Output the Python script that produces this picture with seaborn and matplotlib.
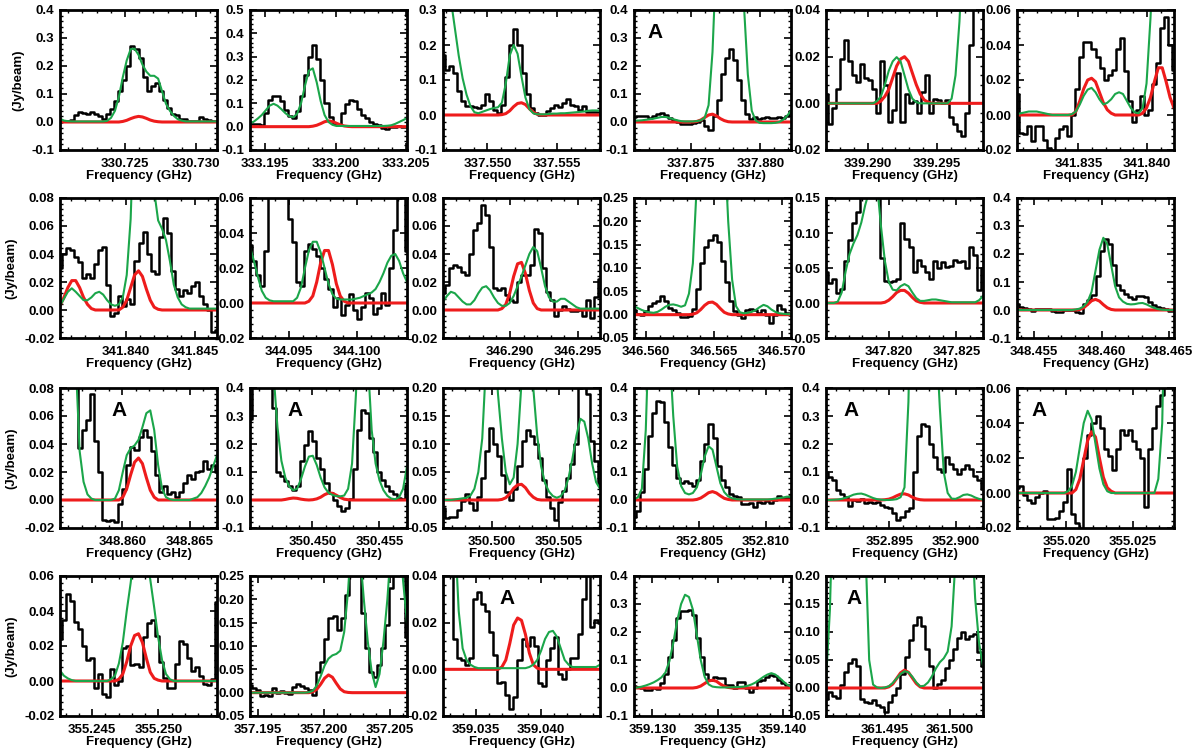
"""
Line survey panels: observed spectrum (black steps), single-line model (red)
and full model of all species (green) for 23 frequency windows.
"""

import numpy as np
import matplotlib
matplotlib.use("Agg")
import matplotlib.pyplot as plt
from matplotlib.ticker import MultipleLocator, AutoMinorLocator, FormatStrFormatter
import seaborn as sns

# ---------------------------------------------------------------
# Panel axes ranges (GHz, Jy/beam)
# ---------------------------------------------------------------
freq_lo = [330.72042, 333.19392, 337.54680, 337.87090, 339.28698, 341.83053,
           341.83518, 344.09215, 346.28506, 346.55910, 347.81533, 348.45372,
           348.85537, 350.44534, 350.49634, 352.80010, 352.89025, 355.01626,
           355.24256, 357.19438, 359.03250, 359.12859, 361.49045]
freq_hi = [330.73148, 333.20506, 337.55810, 337.88220, 339.29833, 341.84197,
           341.84662, 344.10366, 346.29664, 346.57070, 347.82697, 348.46538,
           348.86704, 350.45706, 350.50806, 352.81190, 352.90205, 355.02814,
           355.25444, 357.20632, 359.04451, 359.14061, 361.50255]
y_lo = [-0.1, -0.1, -0.1, -0.1, -0.02, -0.02, -0.02, -0.02, -0.02, -0.05, -0.05, -0.1,
        -0.02, -0.1, -0.05, -0.1, -0.1, -0.02, -0.02, -0.05, -0.02, -0.1, -0.05]
y_hi = [0.4, 0.5, 0.3, 0.4, 0.04, 0.06, 0.08, 0.06, 0.08, 0.25, 0.15, 0.4,
        0.08, 0.4, 0.20, 0.4, 0.4, 0.06, 0.06, 0.25, 0.04, 0.4, 0.20]
y_step = [0.1, 0.1, 0.1, 0.1, 0.02, 0.02, 0.02, 0.02, 0.02, 0.05, 0.05, 0.1,
          0.02, 0.1, 0.05, 0.1, 0.1, 0.02, 0.02, 0.05, 0.02, 0.1, 0.05]

# ---------------------------------------------------------------
# Observed spectra (channels spread evenly across each window)
# ---------------------------------------------------------------
spec_01 = [0.0, 0.005, 0.005, 0.008, 0.025, 0.035, 0.032, 0.03, 0.035, 0.028, 0.02, 0.01, 0.03, 0.045,
           0.075, 0.11, 0.15, 0.2, 0.27, 0.26, 0.23, 0.16, 0.11, 0.13, 0.14, 0.11, 0.08, 0.05, 0.03,
           0.025, 0.012, 0.01, 0.004, 0.003, 0.005, 0.018, 0.012, 0.008, 0.004, 0.004]
spec_02 = [0.01, 0.01, 0.01, 0.005, 0.06, 0.115, 0.13, 0.13, 0.11, 0.07, 0.045, 0.035, 0.065, 0.13,
           0.22, 0.30, 0.35, 0.29, 0.2, 0.1, 0.04, 0.01, 0.01, 0.06, 0.095, 0.115, 0.11, 0.075, 0.05,
           0.035, 0.02, 0.01, 0.005, -0.005, -0.008, 0.0, 0.0, 0.002, 0.0, 0.0]
spec_03 = [0.17, 0.13, 0.14, 0.12, 0.07, 0.04, 0.025, 0.025, 0.022, 0.02, 0.03, 0.06, 0.04, 0.015,
           0.005, 0.03, 0.11, 0.2, 0.245, 0.2, 0.12, 0.06, 0.02, 0.005, 0.0, 0.0, 0.012, 0.02, 0.03,
           0.022, 0.035, 0.045, 0.03, 0.025, 0.015, 0.025, 0.01, 0.01, 0.01, 0.008]
spec_04 = [0.018, 0.02, 0.022, 0.02, 0.015, 0.02, 0.03, 0.032, 0.025, 0.015, 0.008, 0.0, -0.006,
           -0.008, -0.008, -0.005, 0.0, 0.006, -0.015, -0.027, 0.02, 0.08, 0.17, 0.23, 0.26, 0.22,
           0.15, 0.08, 0.03, 0.012, 0.018, 0.012, 0.015, 0.018, 0.015, 0.015, 0.018, 0.015, 0.02, 0.04]
spec_05 = [0.004, -0.009, -0.002, 0.006, 0.019, 0.027, 0.018, 0.012, 0.009, 0.017, 0.011, 0.01,
           0.006, -0.004, 0.018, 0.008, -0.008, -0.003, 0.013, -0.008, 0.004, 0.0, 0.001, -0.004,
           0.005, 0.012, -0.004, 0.002, 0.0015, 0.0, 0.0015, -0.006, -0.009, -0.012, -0.014, -0.004,
           0.025, 0.045, 0.06, 0.06]
spec_06 = [0.012, -0.01, -0.011, -0.006, -0.015, -0.006, -0.006, -0.014, -0.019, -0.021, -0.013,
           -0.008, -0.006, -0.012, 0.0, 0.015, 0.033, 0.042, 0.042, 0.038, 0.033, 0.027, 0.02, 0.023,
           0.026, 0.038, 0.044, 0.025, 0.008, -0.004, 0.003, 0.011, 0.0, 0.003, 0.018, 0.03, 0.05,
           0.056, 0.04, 0.026]
spec_07 = [0.03, 0.04, 0.044, 0.043, 0.038, 0.034, 0.023, 0.026, 0.023, 0.033, 0.043, 0.045, 0.018,
           -0.004, -0.002, 0.01, 0.003, 0.008, 0.004, 0.035, 0.048, 0.056, 0.04, 0.028, 0.026, 0.052,
           0.066, 0.055, 0.028, 0.015, 0.01, 0.014, 0.012, 0.017, 0.02, 0.01, 0.004, 0.0, -0.016, -0.014]
spec_08 = [0.033, 0.024, 0.016, 0.01, 0.03, 0.07, 0.075, 0.08, 0.075, 0.065, 0.048, 0.035, 0.012,
           0.01, 0.03, 0.034, 0.031, 0.027, 0.02, 0.014, 0.008, -0.002, 0.003, -0.007, -0.001, 0.005,
           -0.004, -0.009, -0.002, 0.006, 0.003, -0.006, -0.003, 0.006, -0.001, 0.02, 0.042, 0.06,
           0.065, 0.03]
spec_09 = [0.012, 0.018, 0.03, 0.032, 0.031, 0.027, 0.025, 0.04, 0.057, 0.062, 0.075, 0.068, 0.045,
           0.016, 0.014, 0.016, 0.011, 0.007, 0.006, 0.02, 0.025, 0.025, 0.032, 0.058, 0.055, 0.03,
           0.013, 0.007, -0.004, 0.0, 0.003, 0.001, -0.001, -0.001, 0.0, -0.004, 0.007, -0.006, 0.009,
           0.022]
spec_10 = [0.011, 0.001, 0.0, 0.008, 0.018, 0.025, 0.03, 0.04, 0.03, 0.015, 0.01, 0.004, -0.004,
           -0.004, -0.003, 0.012, 0.055, 0.11, 0.145, 0.16, 0.17, 0.155, 0.115, 0.07, 0.03, 0.007, 0.0,
           -0.007, 0.01, 0.012, 0.011, 0.004, 0.01, 0.0, -0.018, 0.0, 0.02, 0.012, 0.003, 0.0]
spec_11 = [0.045, 0.028, 0.034, 0.015, 0.02, 0.06, 0.09, 0.115, 0.13, 0.17, 0.2, 0.22, 0.21, 0.19,
           0.065, 0.031, 0.03, 0.031, 0.034, 0.115, 0.091, 0.08, 0.045, 0.061, 0.053, 0.044, 0.034,
           0.06, 0.05, 0.058, 0.052, 0.053, 0.062, 0.058, 0.06, 0.05, 0.08, 0.068, 0.018, 0.05]
spec_12 = [0.021, 0.012, 0.007, 0.005, -0.005, 0.003, 0.003, 0.003, 0.003, -0.005, -0.008, -0.006,
           -0.001, 0.0, 0.0, -0.006, -0.012, 0.02, 0.036, 0.055, 0.12, 0.21, 0.255, 0.235, 0.16, 0.09,
           0.073, 0.056, 0.048, 0.04, 0.05, 0.05, 0.045, 0.03, 0.018, 0.012, 0.007, 0.005, -0.002,
           -0.002]
spec_13 = [0.12, 0.13, 0.12, 0.1, 0.085, 0.037, 0.05, 0.057, 0.076, 0.042, 0.02, -0.014, -0.015,
           -0.014, -0.016, -0.003, 0.008, 0.025, 0.038, 0.036, 0.045, 0.05, 0.045, 0.035, 0.018, 0.006,
           0.01, 0.004, 0.006, 0.002, 0.006, 0.012, 0.018, 0.015, 0.02, 0.021, 0.028, 0.022, 0.025, 0.02]
spec_14 = [0.29, 0.5, 0.6, 0.6, 0.55, 0.45, 0.33, 0.1, 0.085, 0.067, 0.05, 0.036, 0.05, 0.14, 0.196,
           0.245, 0.21, 0.15, 0.11, 0.06, 0.026, 0.0, -0.02, -0.04, -0.03, 0.005, 0.11, 0.25, 0.32,
           0.31, 0.22, 0.17, 0.1, 0.07, 0.05, 0.032, 0.02, 0.008, 0.005, 0.055]
spec_15 = [-0.015, -0.032, -0.03, -0.031, -0.018, -0.002, 0.01, -0.005, -0.018, 0.005, 0.04, 0.088,
           0.128, 0.1, 0.078, 0.045, 0.015, 0.0, 0.02, 0.06, 0.105, 0.125, 0.115, 0.1, 0.075, 0.035,
           0.005, -0.015, -0.035, -0.003, 0.016, 0.04, 0.065, 0.1, 0.2, 0.23, 0.19, 0.105, 0.07, 0.028]
spec_16 = [-0.062, -0.04, 0.03, 0.11, 0.23, 0.31, 0.355, 0.35, 0.28, 0.19, 0.126, 0.08, 0.062,
           0.068, 0.062, 0.05, 0.07, 0.14, 0.2, 0.27, 0.22, 0.12, 0.07, 0.045, 0.022, 0.016, 0.01,
           -0.015, -0.015, -0.01, -0.025, -0.006, -0.009, -0.005, -0.009, 0.0, 0.014, 0.008, 0.008, 0.014]
spec_17 = [0.1, 0.082, 0.07, 0.035, 0.02, 0.012, -0.02, 0.0, -0.005, 0.005, -0.012, -0.008, -0.01,
           -0.006, -0.018, -0.024, -0.03, -0.047, -0.07, -0.059, -0.041, -0.03, 0.1, 0.23, 0.27, 0.265,
           0.2, 0.153, 0.11, 0.1, 0.153, 0.13, 0.11, 0.094, 0.112, 0.124, 0.11, 0.085, 0.07, 0.041]
spec_18 = [0.003, 0.004, -0.001, -0.004, -0.0057, -0.002, 0.0, 0.001, -0.015, -0.015, -0.014, -0.01,
           -0.005, 0.014, -0.012, -0.017, -0.021, 0.02, 0.033, 0.04, 0.044, 0.037, 0.025, 0.021, 0.013,
           0.025, 0.036, 0.033, 0.036, 0.03, 0.025, 0.02, -0.008, 0.025, 0.037, 0.05, 0.056, 0.065,
           0.08, 0.09]
spec_19 = [0.024, 0.035, 0.05, 0.046, 0.034, 0.03, 0.02, 0.012, 0.013, -0.004, 0.004, -0.0075,
           -0.009, 0.007, -0.002, 0.0, 0.019, 0.02, 0.009, 0.01, 0.008, 0.025, 0.033, 0.035, 0.026,
           0.011, 0.002, -0.004, -0.004, 0.01, 0.023, 0.021, 0.013, 0.006, 0.008, 0.003, -0.0015,
           -0.002, 0.001, 0.045]
spec_20 = [0.016, 0.009, 0.005, -0.007, -0.004, -0.008, 0.011, 0.0, 0.004, -0.001, -0.002, 0.013,
           0.018, 0.014, 0.009, 0.006, -0.004, 0.045, 0.065, 0.115, 0.16, 0.165, 0.135, 0.16, 0.21,
           0.28, 0.3, 0.27, 0.17, 0.095, 0.045, 0.034, 0.06, 0.095, 0.145, 0.225, 0.27, 0.26, 0.28, 0.12]
spec_21 = [0.045, 0.05, 0.045, 0.013, 0.005, 0.004, 0.002, 0.005, 0.03, 0.033, 0.028, 0.025, 0.016,
           0.006, -0.006, -0.0055, -0.011, -0.017, -0.012, 0.004, 0.013, 0.01, 0.014, 0.01, -0.006,
           -0.007, 0.004, 0.009, 0.014, -0.002, -0.004, 0.0, 0.005, 0.005, 0.015, 0.03, 0.045, 0.018,
           0.021, 0.02]
spec_22 = [0.006, 0.005, 0.0, -0.006, -0.008, 0.0, -0.005, 0.018, 0.05, 0.11, 0.17, 0.25, 0.275,
           0.275, 0.28, 0.26, 0.18, 0.11, 0.05, 0.03, 0.04, 0.035, 0.035, 0.012, 0.012, 0.0, 0.02,
           0.022, 0.0, -0.015, 0.0, 0.024, 0.03, 0.038, 0.045, 0.042, 0.03, 0.018, 0.01, 0.003]
spec_23 = [-0.02, -0.008, -0.014, -0.018, 0.005, 0.028, 0.045, 0.052, 0.04, -0.02, -0.025, -0.027,
           -0.022, -0.031, -0.034, -0.042, -0.025, -0.012, 0.0, 0.025, 0.055, 0.085, 0.112, 0.127,
           0.11, 0.07, 0.04, 0.0, 0.007, 0.015, 0.035, 0.05, 0.07, 0.09, 0.1, 0.088, 0.093, 0.096,
           0.065, 0.04]

# ---------------------------------------------------------------
# Single-line model (red), sampled at 41 even points per window
# ---------------------------------------------------------------
red_01 = [0, 0, 0, 0, 0, 0, 0, 0, 0, 0, 0, 0, 0, 0, 0, 0,
          0.002, 0.006, 0.012, 0.017, 0.02, 0.018, 0.013, 0.007, 0.003, 0.001,
          0, 0, 0, 0, 0, 0, 0, 0, 0, 0, 0, 0, 0, 0, 0]
red_02 = [0, 0, 0, 0, 0, 0, 0, 0, 0, 0, 0, 0, 0, 0, 0, 0,
          0.002, 0.006, 0.013, 0.021, 0.025, 0.022, 0.015, 0.008, 0.003, 0.001,
          0, 0, 0, 0, 0, 0, 0, 0, 0, 0, 0, 0, 0, 0, 0]
red_03 = [0, 0, 0, 0, 0, 0, 0, 0, 0, 0, 0, 0, 0, 0, 0,
          0.001, 0.004, 0.012, 0.024, 0.033, 0.035, 0.03, 0.018, 0.008, 0.002,
          0, 0, 0, 0, 0, 0, 0, 0, 0, 0, 0, 0, 0, 0, 0, 0]
red_04 = [0, 0, 0, 0, 0, 0, 0, 0, 0, 0, 0, 0, 0, 0, 0, 0,
          0.002, 0.007, 0.016, 0.025, 0.028, 0.022, 0.012, 0.005, 0.001,
          0, 0, 0, 0, 0, 0, 0, 0, 0, 0, 0, 0, 0, 0, 0, 0]
red_05 = [0, 0, 0, 0, 0, 0, 0, 0, 0, 0, 0, 0, 0, 0,
          0.001, 0.003, 0.006, 0.011, 0.016, 0.019, 0.02, 0.018, 0.013, 0.008, 0.004, 0.0015, 0.0005,
          0, 0, 0, 0, 0, 0, 0, 0, 0, 0, 0, 0, 0, 0]
red_06 = [0, 0, 0, 0, 0, 0, 0, 0, 0, 0, 0, 0, 0, 0, 0,
          0.002, 0.008, 0.015, 0.02, 0.021, 0.019, 0.013, 0.007, 0.003, 0.001,
          0, 0, 0, 0, 0, 0, 0,
          0.001, 0.004, 0.01, 0.019, 0.027, 0.027, 0.019, 0.01, 0.004]
red_07 = [0.003, 0.009, 0.016, 0.021, 0.021, 0.016, 0.009, 0.004, 0.001,
          0, 0, 0, 0, 0, 0, 0,
          0.002, 0.007, 0.016, 0.025, 0.028, 0.024, 0.015, 0.007, 0.002, 0.0005,
          0, 0, 0, 0, 0, 0, 0, 0, 0, 0, 0, 0, 0, 0, 0]
red_08 = [0, 0, 0, 0, 0, 0, 0, 0, 0, 0, 0, 0, 0, 0, 0,
          0.001, 0.004, 0.012, 0.023, 0.03, 0.03, 0.022, 0.011, 0.004, 0.001,
          0, 0, 0, 0, 0, 0, 0, 0, 0, 0, 0, 0, 0, 0, 0, 0]
red_09 = [0, 0, 0, 0, 0, 0, 0, 0, 0, 0, 0, 0, 0, 0, 0,
          0.001, 0.004, 0.012, 0.024, 0.033, 0.034, 0.026, 0.014, 0.005, 0.001,
          0, 0, 0, 0, 0, 0, 0, 0, 0, 0, 0, 0, 0, 0, 0, 0]
red_10 = [0, 0, 0, 0, 0, 0, 0, 0, 0, 0, 0, 0, 0, 0, 0,
          0.001, 0.004, 0.011, 0.02, 0.026, 0.027, 0.022, 0.013, 0.005, 0.0015,
          0, 0, 0, 0, 0, 0, 0, 0, 0, 0, 0, 0, 0, 0, 0, 0]
red_11 = [0, 0, 0, 0, 0, 0, 0, 0, 0, 0, 0, 0, 0, 0, 0,
          0.001, 0.004, 0.009, 0.015, 0.018, 0.018, 0.014, 0.008, 0.003, 0.001,
          0, 0, 0, 0, 0, 0, 0, 0, 0, 0, 0, 0, 0, 0, 0, 0]
red_12 = [0, 0, 0, 0, 0, 0, 0, 0, 0, 0, 0, 0, 0, 0, 0, 0,
          0.002, 0.008, 0.02, 0.033, 0.038, 0.032, 0.019, 0.008, 0.002,
          0, 0, 0, 0, 0, 0, 0, 0, 0, 0, 0, 0, 0, 0, 0, 0]
red_13 = [0, 0, 0, 0, 0, 0, 0, 0, 0, 0, 0, 0, 0, 0, 0, 0,
          0.002, 0.008, 0.018, 0.027, 0.03, 0.026, 0.016, 0.007, 0.002,
          0, 0, 0, 0, 0, 0, 0, 0, 0, 0, 0, 0, 0, 0, 0, 0]
red_14 = [0, 0, 0, 0, 0, 0, 0, 0, 0,
          0.002, 0.005, 0.007, 0.006, 0.003, 0.001,
          0,
          0.001, 0.004, 0.01, 0.019, 0.025, 0.024, 0.017, 0.009, 0.003, 0.001,
          0, 0, 0, 0, 0, 0, 0, 0, 0, 0, 0, 0, 0, 0, 0]
red_15 = [0, 0, 0, 0, 0, 0, 0, 0, 0, 0, 0, 0, 0, 0, 0,
          0.001, 0.004, 0.011, 0.021, 0.027, 0.028, 0.022, 0.012, 0.005, 0.001,
          0, 0, 0, 0, 0, 0, 0, 0, 0, 0, 0, 0, 0, 0, 0, 0]
red_16 = [0, 0, 0, 0, 0, 0, 0, 0, 0, 0, 0, 0, 0, 0, 0, 0,
          0.002, 0.007, 0.016, 0.026, 0.03, 0.025, 0.015, 0.006, 0.002,
          0, 0, 0, 0, 0, 0, 0, 0, 0, 0, 0, 0, 0, 0, 0, 0]
red_17 = [0, 0, 0, 0, 0, 0, 0, 0, 0, 0, 0, 0, 0, 0, 0,
          0.001, 0.003, 0.008, 0.015, 0.021, 0.022, 0.018, 0.01, 0.004, 0.001,
          0, 0, 0, 0, 0, 0, 0, 0, 0, 0, 0, 0, 0, 0, 0, 0]
red_18 = [0, 0, 0, 0, 0, 0, 0, 0, 0, 0, 0, 0, 0, 0, 0,
          0.002, 0.008, 0.019, 0.03, 0.035, 0.032, 0.02, 0.009, 0.003, 0.001,
          0, 0, 0, 0, 0, 0, 0, 0, 0, 0, 0, 0, 0, 0, 0, 0]
red_19 = [0, 0, 0, 0, 0, 0, 0, 0, 0, 0, 0, 0, 0, 0, 0,
          0.001, 0.004, 0.011, 0.02, 0.026, 0.027, 0.022, 0.013, 0.005, 0.0015, 0.0005,
          0, 0, 0, 0, 0, 0, 0, 0, 0, 0, 0, 0, 0, 0, 0]
red_20 = [0, 0, 0, 0, 0, 0, 0, 0, 0, 0, 0, 0, 0, 0, 0, 0,
          0.002, 0.007, 0.018, 0.031, 0.038, 0.033, 0.02, 0.008, 0.002, 0.0005,
          0, 0, 0, 0, 0, 0, 0, 0, 0, 0, 0, 0, 0, 0, 0]
red_21 = [0, 0, 0, 0, 0, 0, 0, 0, 0, 0, 0, 0, 0, 0, 0,
          0.001, 0.004, 0.011, 0.019, 0.022, 0.021, 0.015, 0.007, 0.002, 0.0005,
          0, 0, 0, 0, 0, 0, 0, 0, 0, 0, 0, 0, 0, 0, 0, 0]
red_22 = [0, 0, 0, 0, 0, 0, 0, 0, 0, 0, 0, 0, 0, 0, 0, 0,
          0.002, 0.007, 0.016, 0.025, 0.028, 0.024, 0.014, 0.006, 0.002,
          0, 0, 0, 0, 0, 0, 0, 0, 0, 0, 0, 0, 0, 0, 0, 0]
red_23 = [0, 0, 0, 0, 0, 0, 0, 0, 0, 0, 0, 0, 0, 0, 0, 0,
          0.002, 0.007, 0.017, 0.027, 0.032, 0.028, 0.018, 0.008, 0.002,
          0, 0, 0, 0, 0, 0, 0, 0, 0, 0, 0, 0, 0, 0, 0, 0]

# ---------------------------------------------------------------
# Full model, all species (green), sampled at 41 even points per window
# ---------------------------------------------------------------
green_01 = [0.012, 0.005, 0.003, 0.002, 0.002, 0.002, 0.002, 0.002, 0.002, 0.002, 0.002, 0.002,
            0.004, 0.015, 0.04, 0.09, 0.16, 0.22, 0.26, 0.262, 0.24, 0.205, 0.18, 0.165, 0.165,
            0.155, 0.11, 0.065, 0.04, 0.022, 0.01, 0.005,
            0.002, 0.002, 0.002, 0.002, 0.002, 0.002, 0.002, 0.002, 0.002]
green_02 = [0.015, 0.022, 0.035, 0.05, 0.07, 0.09, 0.098, 0.09, 0.075, 0.058, 0.045, 0.04, 0.055,
            0.1, 0.175, 0.24, 0.25, 0.19, 0.11, 0.05, 0.02, 0.008,
            0.003, 0.003, 0.003, 0.003, 0.003, 0.003, 0.003, 0.003, 0.003, 0.003, 0.003, 0.003, 0.003,
            0.004, 0.006, 0.012, 0.02, 0.028, 0.037]
green_03 = [0.6, 0.45, 0.33, 0.25, 0.17, 0.105, 0.058, 0.025, 0.008, 0.005, 0.009, 0.013, 0.017,
            0.02, 0.022, 0.035, 0.09, 0.17, 0.2, 0.175, 0.11, 0.05, 0.017, 0.005, 0.002, 0.002, 0.002,
            0.003, 0.004, 0.004, 0.005, 0.005, 0.006, 0.007, 0.008, 0.009, 0.01, 0.012, 0.013, 0.013,
            0.012]
green_04 = [0.005, 0.005, 0.006, 0.008, 0.01, 0.012, 0.015, 0.018, 0.018, 0.015, 0.01, 0.006, 0.003,
            0.002, 0.002, 0.002, 0.003, 0.006, 0.015, 0.06, 0.25, 0.6, 1.0, 1.2, 1.2, 1.0, 0.8, 0.6,
            0.42, 0.17, 0.04, 0.005, -0.003, -0.004, -0.004, -0.004, -0.003, 0.0, 0.008, 0.022, 0.04]
green_05 = [0, 0, 0, 0, 0, 0, 0, 0, 0, 0, 0, 0, 0,
            0.001, 0.003, 0.008, 0.014, 0.018, 0.0198, 0.018, 0.012, 0.006, 0.002, 0.0005,
            0, 0, 0, 0, 0, 0, 0, 0,
            0.002, 0.012, 0.035, 0.07, 0.1, 0.1, 0.1, 0.1, 0.1]
green_06 = [0.0005, 0.001, 0.0015, 0.002, 0.002, 0.002, 0.0015, 0.001, 0.0005, 0, 0, 0, 0, 0,
            0.0005, 0.002, 0.006, 0.011, 0.0145, 0.0155, 0.013, 0.009, 0.006, 0.007, 0.009, 0.012,
            0.013, 0.012, 0.008, 0.004, 0.0015, 0.001, 0.004, 0.018, 0.055,
            0.1, 0.1, 0.1, 0.1, 0.1, 0.1]
green_07 = [0.003, 0.008, 0.013, 0.0155, 0.013, 0.01, 0.007, 0.007, 0.009, 0.012, 0.013, 0.011,
            0.007, 0.004, 0.003, 0.004, 0.009, 0.025, 0.065, 0.15, 0.25, 0.3, 0.25, 0.15, 0.085,
            0.064, 0.058, 0.05, 0.035, 0.018, 0.009, 0.004, 0.002,
            0.001, 0.001, 0.001, 0.001, 0.001, 0.001, 0.001, 0.001]
green_08 = [0.032, 0.024, 0.015, 0.007, 0.003, 0.0015, 0.001, 0.001, 0.001, 0.001, 0.001, 0.001,
            0.003, 0.009, 0.02, 0.03, 0.035, 0.035, 0.029, 0.02, 0.011, 0.005, 0.0025, 0.002, 0.002,
            0.002, 0.002, 0.0025, 0.003, 0.004, 0.005, 0.006, 0.008, 0.012, 0.017, 0.023, 0.027,
            0.028, 0.024, 0.017, 0.012]
green_09 = [0.006, 0.01, 0.013, 0.012, 0.009, 0.006, 0.004, 0.004, 0.007, 0.012, 0.016, 0.017,
            0.014, 0.009, 0.005, 0.003, 0.003, 0.005, 0.01, 0.017, 0.024, 0.032, 0.04, 0.045, 0.042,
            0.03, 0.017, 0.009, 0.006, 0.006, 0.008, 0.008, 0.006, 0.004, 0.002,
            0.001, 0.001, 0.001, 0.001, 0.001, 0.001]
green_10 = [0.018, 0.014, 0.01, 0.007, 0.005, 0.004, 0.006, 0.011, 0.017, 0.021, 0.022, 0.02, 0.017,
            0.02, 0.045, 0.11, 0.28, 0.5, 0.7, 0.85, 0.9, 0.8, 0.6, 0.38, 0.2, 0.075, 0.018, 0.005,
            0.003, 0.004, 0.006, 0.01, 0.016, 0.021, 0.018, 0.011, 0.006, 0.003, 0.002, 0.001, 0.001]
green_11 = [0, 0, 0, 0.002, 0.015, 0.045, 0.07, 0.085, 0.097, 0.115, 0.14, 0.16, 0.18, 0.17, 0.11,
            0.06, 0.03, 0.019, 0.018, 0.024, 0.027, 0.024, 0.015, 0.007, 0.003, 0.003, 0.004, 0.005,
            0.005, 0.004, 0.003, 0.002, 0.001, 0.001, 0.001, 0.001, 0.001, 0.001, 0.001, 0.004, 0.01]
green_12 = [0, 0, 0, 0, 0, 0, 0, 0, 0, 0, 0, 0, 0, 0, 0,
            0.002, 0.005, 0.013, 0.03, 0.065, 0.14, 0.215, 0.258, 0.235, 0.16, 0.085, 0.045, 0.03,
            0.022, 0.02, 0.021, 0.024, 0.025, 0.02, 0.013, 0.007, 0.003, 0.001,
            0, 0, 0]
green_13 = [0.5, 0.4, 0.3, 0.2, 0.1, 0.035, 0.013, 0.004, 0.001, 0, 0, 0, 0, 0,
            0.001, 0.007, 0.02, 0.032, 0.037, 0.039, 0.043, 0.052, 0.062, 0.064, 0.05, 0.025, 0.008,
            0.002, 0.0005, 0, 0, 0, 0, 0,
            0.001, 0.002, 0.005, 0.01, 0.016, 0.024, 0.032]
green_14 = [1.0, 1.0, 1.0, 0.9, 0.8, 0.6, 0.45, 0.26, 0.14, 0.08, 0.048, 0.035, 0.04, 0.075, 0.12,
            0.155, 0.158, 0.125, 0.08, 0.045, 0.026, 0.018, 0.014, 0.013, 0.016, 0.04, 0.13, 0.38,
            0.7, 0.8, 0.5, 0.25, 0.13, 0.07, 0.035, 0.015, 0.005, 0.003, 0.01, 0.04, 0.12]
green_15 = [0.0, 0.0, 0.0, 0.001, 0.002, 0.003, 0.004, 0.008, 0.02, 0.05, 0.11, 0.25, 0.35, 0.3,
            0.19, 0.11, 0.05, 0.028, 0.04, 0.1, 0.21, 0.3, 0.28, 0.2, 0.115, 0.06, 0.03, 0.015, 0.007,
            0.004, 0.007, 0.017, 0.04, 0.075, 0.115, 0.145, 0.14, 0.11, 0.065, 0.032, 0.02]
green_16 = [0.002, 0.01, 0.04, 0.25, 0.7, 1.0, 1.0, 1.0, 0.8, 0.55, 0.3, 0.12, 0.05, 0.025, 0.02,
            0.025, 0.045, 0.09, 0.155, 0.192, 0.18, 0.12, 0.06, 0.028, 0.013, 0.006, 0.003,
            0.002, 0.002, 0.002, 0.002, 0.002, 0.002, 0.002, 0.002,
            0.003, 0.005, 0.007, 0.009, 0.012, 0.011]
green_17 = [0.0, 0.0, 0.001, 0.002, 0.004, 0.008, 0.013, 0.019, 0.022, 0.023, 0.019, 0.013, 0.007,
            0.003, 0.001, 0.0, 0.0, 0.001, 0.003, 0.01, 0.045, 0.35, 1.0, 1.5, 2.0, 2.0, 1.5, 1.0,
            0.6, 0.33, 0.1, 0.025, 0.005, 0.004, 0.01, 0.018, 0.02, 0.016, 0.009, 0.004, 0.001]
green_18 = [0, 0, 0, 0, 0, 0, 0, 0, 0, 0, 0, 0, 0,
            0.001, 0.004, 0.012, 0.026, 0.04, 0.047, 0.042, 0.028, 0.014, 0.005, 0.001,
            0, 0, 0, 0, 0, 0, 0, 0, 0, 0, 0, 0,
            0.008, 0.04, 0.15, 0.3, 0.5]
green_19 = [0.006, 0.003, 0.0015, 0.0005, 0, 0, 0, 0, 0, 0, 0, 0, 0,
            0.001, 0.003, 0.01, 0.022, 0.04, 0.056, 0.075, 0.085, 0.08, 0.07, 0.058, 0.042, 0.025,
            0.012, 0.004, 0.001,
            0, 0, 0, 0, 0, 0, 0, 0, 0, 0, 0, 0]
green_20 = [0, 0, 0, 0, 0, 0, 0, 0, 0, 0, 0, 0, 0, 0, 0,
            0.001, 0.004, 0.015, 0.035, 0.058, 0.073, 0.08, 0.083, 0.09, 0.13, 0.22, 0.35, 0.4, 0.3,
            0.2, 0.11, 0.045, 0.012, 0.04, 0.11, 0.2, 0.32, 0.4, 0.35, 0.24, 0.15]
green_21 = [0.5, 0.3, 0.15, 0.06, 0.025, 0.009, 0.004, 0.002, 0.001,
            0.0005, 0.0005, 0.0005, 0.0005, 0.0005, 0.0005, 0.0005, 0.0005, 0.0005, 0.0005, 0.0005,
            0.0005, 0.0005,
            0.001, 0.002, 0.004, 0.008, 0.013, 0.016, 0.0165, 0.014, 0.009, 0.004, 0.002, 0.001,
            0.001, 0.001, 0.001, 0.001, 0.001, 0.001, 0.002]
green_22 = [0.0, 0.002, 0.005, 0.009, 0.014, 0.02, 0.028, 0.038, 0.055, 0.095, 0.16, 0.24, 0.3,
            0.333, 0.325, 0.28, 0.19, 0.1, 0.04, 0.013, 0.005, 0.003, 0.002, 0.002, 0.002, 0.003,
            0.003, 0.004, 0.005, 0.008, 0.013, 0.02, 0.03, 0.04, 0.048, 0.053, 0.048, 0.037, 0.024,
            0.012, 0.005]
green_23 = [0.012, 0.14, 0.4, 0.7, 0.9, 1.0, 1.0, 0.9, 0.7, 0.45, 0.26, 0.05, 0.006, 0.001, 0.0,
            0.001, 0.003, 0.009, 0.017, 0.025, 0.03, 0.028, 0.02, 0.01, 0.003, 0.004, 0.01, 0.021,
            0.035, 0.046, 0.053, 0.065, 0.11, 0.23, 0.4, 0.5, 0.45, 0.3, 0.16, 0.08, 0.04]

# panels whose line is flagged "A" (panel index -> x position in axes fraction)
a_label_x = {3: 0.085, 12: 0.33, 13: 0.24, 16: 0.11, 17: 0.095, 20: 0.36, 22: 0.13}

spectra = [spec_01, spec_02, spec_03, spec_04, spec_05, spec_06, spec_07, spec_08, spec_09,
           spec_10, spec_11, spec_12, spec_13, spec_14, spec_15, spec_16, spec_17, spec_18,
           spec_19, spec_20, spec_21, spec_22, spec_23]
reds = [red_01, red_02, red_03, red_04, red_05, red_06, red_07, red_08, red_09, red_10, red_11,
        red_12, red_13, red_14, red_15, red_16, red_17, red_18, red_19, red_20, red_21, red_22,
        red_23]
greens = [green_01, green_02, green_03, green_04, green_05, green_06, green_07, green_08, green_09,
          green_10, green_11, green_12, green_13, green_14, green_15, green_16, green_17, green_18,
          green_19, green_20, green_21, green_22, green_23]

# ---------------------------------------------------------------
# Figure
# ---------------------------------------------------------------
sns.set_theme(style="ticks")
plt.rcParams["font.family"] = ["Liberation Sans", "DejaVu Sans"]
plt.rcParams["font.weight"] = "bold"
plt.rcParams["axes.labelweight"] = "bold"
plt.rcParams["axes.unicode_minus"] = False

FIG_W, FIG_H = 1200, 753
fig = plt.figure(figsize=(FIG_W / 100, FIG_H / 100), dpi=100)
fig.patch.set_facecolor("white")

col_left = [60, 250, 443, 634, 826, 1017]
row_top = [10, 198, 388, 576]
AX_W, AX_H = 157, 140

for k in range(len(spectra)):
    r, c = divmod(k, 6)
    ax = fig.add_axes([col_left[c] / FIG_W, 1 - (row_top[r] + AX_H) / FIG_H,
                       AX_W / FIG_W, AX_H / FIG_H])
    ax.set_facecolor("white")
    lo, hi = freq_lo[k], freq_hi[k]

    obs = spectra[k]
    sns.lineplot(x=np.linspace(lo, hi, len(obs)), y=obs, ax=ax, color="black",
                 linewidth=1.8, drawstyle="steps-mid", legend=False)
    sns.lineplot(x=np.linspace(lo, hi, len(reds[k])), y=reds[k], ax=ax, color="#ee1c1c",
                 linewidth=2.2, legend=False)
    sns.lineplot(x=np.linspace(lo, hi, len(greens[k])), y=greens[k], ax=ax, color="#1ba64a",
                 linewidth=1.5, legend=False)

    ax.set_xlim(lo, hi)
    ax.set_ylim(y_lo[k], y_hi[k])
    ax.xaxis.set_major_locator(MultipleLocator(0.005))
    ax.xaxis.set_major_formatter(FormatStrFormatter("%.3f"))
    ax.xaxis.set_minor_locator(AutoMinorLocator(5))
    ax.yaxis.set_major_locator(MultipleLocator(y_step[k]))
    ax.yaxis.set_major_formatter(FormatStrFormatter("%.1f" if y_step[k] >= 0.1 else "%.2f"))
    ax.yaxis.set_minor_locator(AutoMinorLocator(5))
    ax.tick_params(which="both", direction="in", top=True, right=True, color="black",
                   labelsize=9.5, labelcolor="black")
    ax.tick_params(axis="x", which="major", pad=6)
    ax.tick_params(axis="y", which="major", pad=4)
    ax.tick_params(which="major", length=5, width=1.2)
    ax.tick_params(which="minor", length=2.5, width=1.0)
    for side in ax.spines.values():
        side.set_linewidth(2)
        side.set_color("black")
    ax.grid(False)

    ax.set_xlabel("Frequency (GHz)", fontsize=9.5, labelpad=0, color="black")
    if c == 0:
        ax.set_ylabel("(Jy/beam)", fontsize=9.5, labelpad=5, color="black")
    else:
        ax.set_ylabel("")

    if k in a_label_x:
        ax.text(a_label_x[k], 0.84, "A", transform=ax.transAxes, fontsize=15,
                fontweight="bold", ha="left", va="center", color="black")

fig.savefig("out.png", dpi=100, facecolor="white")
plt.close(fig)
